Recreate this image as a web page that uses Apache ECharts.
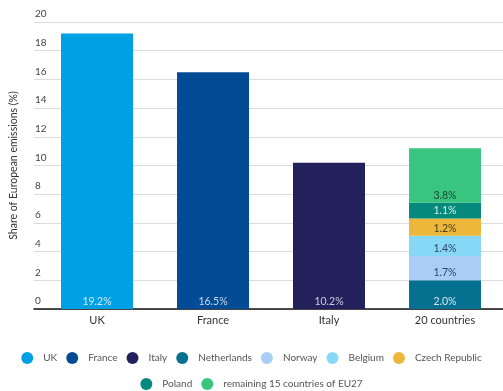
<!DOCTYPE html>
<html>
<head>
<meta charset="utf-8">
<script src="https://cdn.jsdelivr.net/npm/echarts@6/dist/echarts.min.js"></script>
<style>
  html, body { margin: 0; padding: 0; background: #fff; }
  #chart { width: 503px; height: 391px; }
</style>
</head>
<body>
<div id="chart"></div>
<script>
// data
const categories = ['UK', 'France', 'Italy', '20 countries']
const bigCountries = ['UK', 'France', 'Italy']
const bigValues = [19.2, 16.5, 10.2]
const otherCountries = ['Netherlands', 'Norway', 'Belgium', 'Czech Republic', 'Poland', 'remaining 15 countries of EU27']
const otherValues = [2.0, 1.7, 1.4, 1.2, 1.1, 3.8]
const yTicks = [0, 2, 4, 6, 8, 10, 12, 14, 16, 18, 20]

const colors = {
  'UK': '#00a0e4',
  'France': '#034c95',
  'Italy': '#23215b',
  'Netherlands': '#05708f',
  'Norway': '#a9cdf6',
  'Belgium': '#87d7f7',
  'Czech Republic': '#ecb73b',
  'Poland': '#04897c',
  'remaining 15 countries of EU27': '#39c580'
}
const labelColors = {
  'UK': '#d2ecfb',
  'France': '#c8daf0',
  'Italy': '#cdcde3',
  'Netherlands': '#d3e8f0',
  'Norway': '#2e4766',
  'Belgium': '#2e4766',
  'Czech Republic': '#4a3d1e',
  'Poland': '#d8f0ec',
  'remaining 15 countries of EU27': '#1d4536'
}

const font = 'Lato'
const series = []

bigCountries.forEach((name, i) => {
  const data = categories.map((c, j) => (j === i ? bigValues[i] : '-'))
  series.push({ name, data })
})
otherCountries.forEach((name, i) => {
  const data = categories.map((c, j) => (j === 3 ? otherValues[i] : '-'))
  series.push({ name, data })
})

const legendStyle = {
  left: 'center', icon: 'circle', itemWidth: 12, itemHeight: 12, itemGap: 9,
  textStyle: { color: '#555', fontSize: 10, fontFamily: font, padding: [0, 0, 0, 5] }
}

const chart = echarts.init(document.getElementById('chart'))
chart.setOption({
  animation: false,
  textStyle: { fontFamily: font },
  grid: [
    { left: 27, width: 476, top: 22, bottom: 82 },
    { left: 39, width: 470, top: 22, bottom: 82 }
  ],
  xAxis: [
    {
      gridIndex: 0, type: 'value', min: 0, max: 1,
      axisLine: { show: true, lineStyle: { color: '#111', width: 1.5 } },
      axisTick: { show: false }, axisLabel: { show: false }, splitLine: { show: false }
    },
    {
      gridIndex: 1, type: 'category', data: categories,
      axisLine: { show: false }, axisTick: { show: false },
      axisLabel: { color: '#333', fontSize: 11, margin: 6, fontFamily: font }
    }
  ],
  yAxis: [
    {
      gridIndex: 0, type: 'value', min: 0, max: 20, interval: 2,
      name: 'Share of European emissions (%)', nameLocation: 'middle', nameGap: 15,
      nameTextStyle: { color: '#333', fontSize: 10.5, fontFamily: font },
      axisLine: { show: false }, axisTick: { show: false },
      axisLabel: {
        inside: true, margin: 1, align: 'left', verticalAlign: 'bottom',
        padding: [0, 0, 3, 0], color: '#444', fontSize: 10, fontFamily: font,
        formatter: v => (yTicks.includes(v) ? String(v) : '')
      },
      splitLine: { lineStyle: { color: '#dcdcdc', width: 1 } }
    },
    {
      gridIndex: 1, type: 'value', min: 0, max: 20, interval: 2,
      axisLine: { show: false }, axisTick: { show: false },
      axisLabel: { show: false }, splitLine: { show: false }
    }
  ],
  legend: [
    Object.assign({ data: bigCountries.concat(otherCountries.slice(0, 4)), top: 347 }, legendStyle),
    Object.assign({ data: otherCountries.slice(4), top: 373 }, legendStyle)
  ],
  series: series.map(s => ({
    name: s.name,
    type: 'bar',
    stack: 'share',
    xAxisIndex: 1,
    yAxisIndex: 1,
    barWidth: 72,
    itemStyle: { color: colors[s.name] },
    label: {
      show: true,
      position: 'insideBottom',
      distance: 2,
      color: labelColors[s.name],
      fontSize: 10.5,
      fontFamily: font,
      formatter: p => p.value.toFixed(1) + '%'
    },
    data: s.data
  }))
})
</script>
</body>
</html>
